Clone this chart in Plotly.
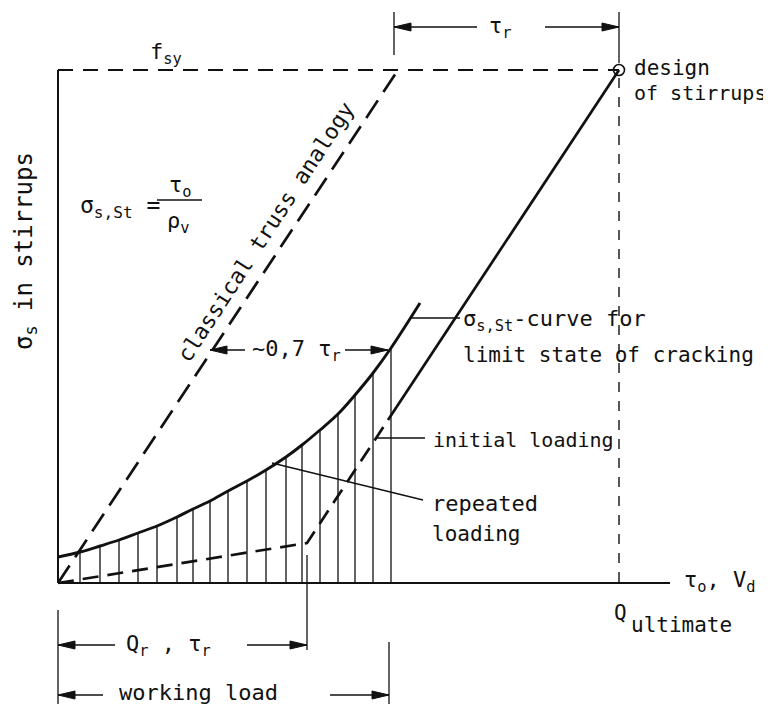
import plotly.graph_objects as go

# ---------------- data (diagram units, origin at the axes corner) ----------------
FSY = 513                 # f_sy level
Q_ULT = 561               # Q_ultimate
X_AXIS_END = 612
TRUSS_X = [0, 340]        # classical truss analogy
TRUSS_Y = [0, 513]
CRACK_X = [0, 22, 42, 61, 80, 99, 119, 135, 152, 170, 189, 208, 228, 244, 262, 280, 297, 315, 333, 362]
CRACK_Y = [26, 31, 37, 43, 50, 57, 66, 74, 82, 92, 102, 113, 126, 138, 153, 169, 188, 210, 235, 280]
HATCH_X = CRACK_X[1:-1]
HATCH_TOP = CRACK_Y[1:-1]
REPEAT_X = [0, 249, 330]  # repeated loading (dashed)
REPEAT_Y = [0, 40, 163]
INITIAL_X = [330, 561]    # initial loading (solid)
INITIAL_Y = [163, 513]
Q_R = 249                 # Q_r, tau_r
WORKING = 331             # working load
TAU07 = [152, 330, 233]   # ~0,7 tau_r dimension (from, to, level)
TAUR_TOP = [336, 561, 556]

FONT = "DejaVu Sans Mono"
BLACK = "#111111"

fig = go.Figure()


def line(xs, ys, width=2.0, dash="solid", shape="linear"):
    fig.add_trace(go.Scatter(x=xs, y=ys, mode="lines", hoverinfo="skip",
                             line=dict(color=BLACK, width=width, dash=dash, shape=shape)))


def segs(pairs, width=1.3):
    xs, ys = [], []
    for (x0, y0, x1, y1) in pairs:
        xs += [x0, x1, None]
        ys += [y0, y1, None]
    line(xs, ys, width=width)


heads = []


def head(xt, yt, d):
    L, W = 17, 4
    heads.append(((xt, yt), (xt - d * L, yt + W), (xt - d * L, yt - W)))


def dim(x0, x1, y, g0, g1):
    segs([(x0, y, g0, y), (g1, y, x1, y)], width=1.4)
    head(x0, y, -1)
    head(x1, y, 1)


# axes
line([0, 0], [0, FSY], width=2.0)
line([0, X_AXIS_END], [0, 0], width=2.0)
# f_sy dashed and Q_ultimate dashed
line([0, Q_ULT], [FSY, FSY], width=2.0, dash="15px,10px")
line([Q_ULT, Q_ULT], [FSY - 8, -7], width=1.4, dash="10px,9px")
# hatching
segs([(x, 0, x, h) for x, h in zip(HATCH_X, HATCH_TOP)], width=1.3)
# truss analogy
line(TRUSS_X, TRUSS_Y, width=2.7, dash="21px,10px")
# cracking curve
line(CRACK_X, CRACK_Y, width=2.9, shape="spline")
# repeated loading / initial loading
line(REPEAT_X, REPEAT_Y, width=2.7, dash="16px,9px")
line(INITIAL_X, INITIAL_Y, width=2.7)
# design point
fig.add_trace(go.Scatter(x=[Q_ULT], y=[FSY], mode="markers", hoverinfo="skip",
                         marker=dict(symbol="circle-open", size=11, color=BLACK,
                                     line=dict(width=1.6, color=BLACK))))

# extension lines & leaders
segs([
    (TAUR_TOP[0], 528, TAUR_TOP[0], 571),
    (TAUR_TOP[1], 520, TAUR_TOP[1], 571),
    (0, -27, 0, -121),
    (Q_R, 28, Q_R, -67),
    (WORKING, -59, WORKING, -121),
    (353, 265, 402, 265),
    (317, 145, 367, 145),
    (214, 120, 365, 83),
    (99, 383, 144, 383),
], width=1.3)

# dimension arrows
dim(TAUR_TOP[0], TAUR_TOP[1], TAUR_TOP[2], 419, 487)
dim(TAU07[0], TAU07[1], TAU07[2], 187, 287)
dim(0, Q_R, -62, 57, 189)
dim(0, WORKING, -112, 45, 272)

hx, hy = [], []
for tri in heads:
    for (a, b) in tri:
        hx.append(a)
        hy.append(b)
    hx.append(tri[0][0])
    hy.append(tri[0][1])
    hx.append(None)
    hy.append(None)
fig.add_trace(go.Scatter(x=hx, y=hy, mode="lines", fill="toself", fillcolor=BLACK,
                         line=dict(color=BLACK, width=1), hoverinfo="skip"))


def text(x, y, s, xanchor="center", yanchor="middle", size=21, angle=0):
    fig.add_annotation(x=x, y=y, text=s, showarrow=False, xanchor=xanchor, yanchor=yanchor,
                       textangle=angle, font=dict(family=FONT, size=size, color=BLACK))


text(108, 530, "f<sub>sy</sub>", size=22)
text(442, 556, "τ<sub>r</sub>", size=22)
text(574, 515, "design", xanchor="left", size=21)
text(574, 490, "of stirrups", xanchor="left", size=20)
text(20, 376, "σ<sub>s,St</sub> =", xanchor="left", size=23)
text(122, 397, "τ<sub>o</sub>", size=22)
text(120, 361, "ρ<sub>v</sub>", size=22)
text(207, 351, "classical truss analogy", angle=-57, size=22)
text(-33, 332, "σ<sub>s</sub> in stirrups", angle=-90, size=24)
text(238, 233, "~0,7 τ<sub>r</sub>", size=22)
text(403, 263, "σ<sub>s,St</sub>-curve for", xanchor="left", size=22)
text(403, 228, "limit state of cracking", xanchor="left")
text(373, 143, "initial loading", xanchor="left", size=20)
text(372, 80, "repeated", xanchor="left", size=22)
text(372, 49, "loading", xanchor="left", size=21)
text(624, 2, "τ<sub>o</sub>, V<sub>d</sub>", xanchor="left", size=22)
text(554, -30, "Q", xanchor="left", size=21)
text(571, -42, "ultimate", xanchor="left", size=21)
text(110, -62, "Q<sub>r</sub> , τ<sub>r</sub>", size=22)
text(140, -109, "working load", size=22)

# the page body keeps an 8 px margin, so the figure is 8 px smaller and its
# ranges start 8 units further in to keep 1 unit = 1 px on the page
fig.update_layout(
    width=763, height=696, margin=dict(l=0, r=0, t=0, b=0),
    paper_bgcolor="white", plot_bgcolor="white", showlegend=False,
    xaxis=dict(range=[-50, 713], visible=False, fixedrange=True),
    yaxis=dict(range=[-121, 575], visible=False, fixedrange=True),
)

fig.write_html("out.html")
